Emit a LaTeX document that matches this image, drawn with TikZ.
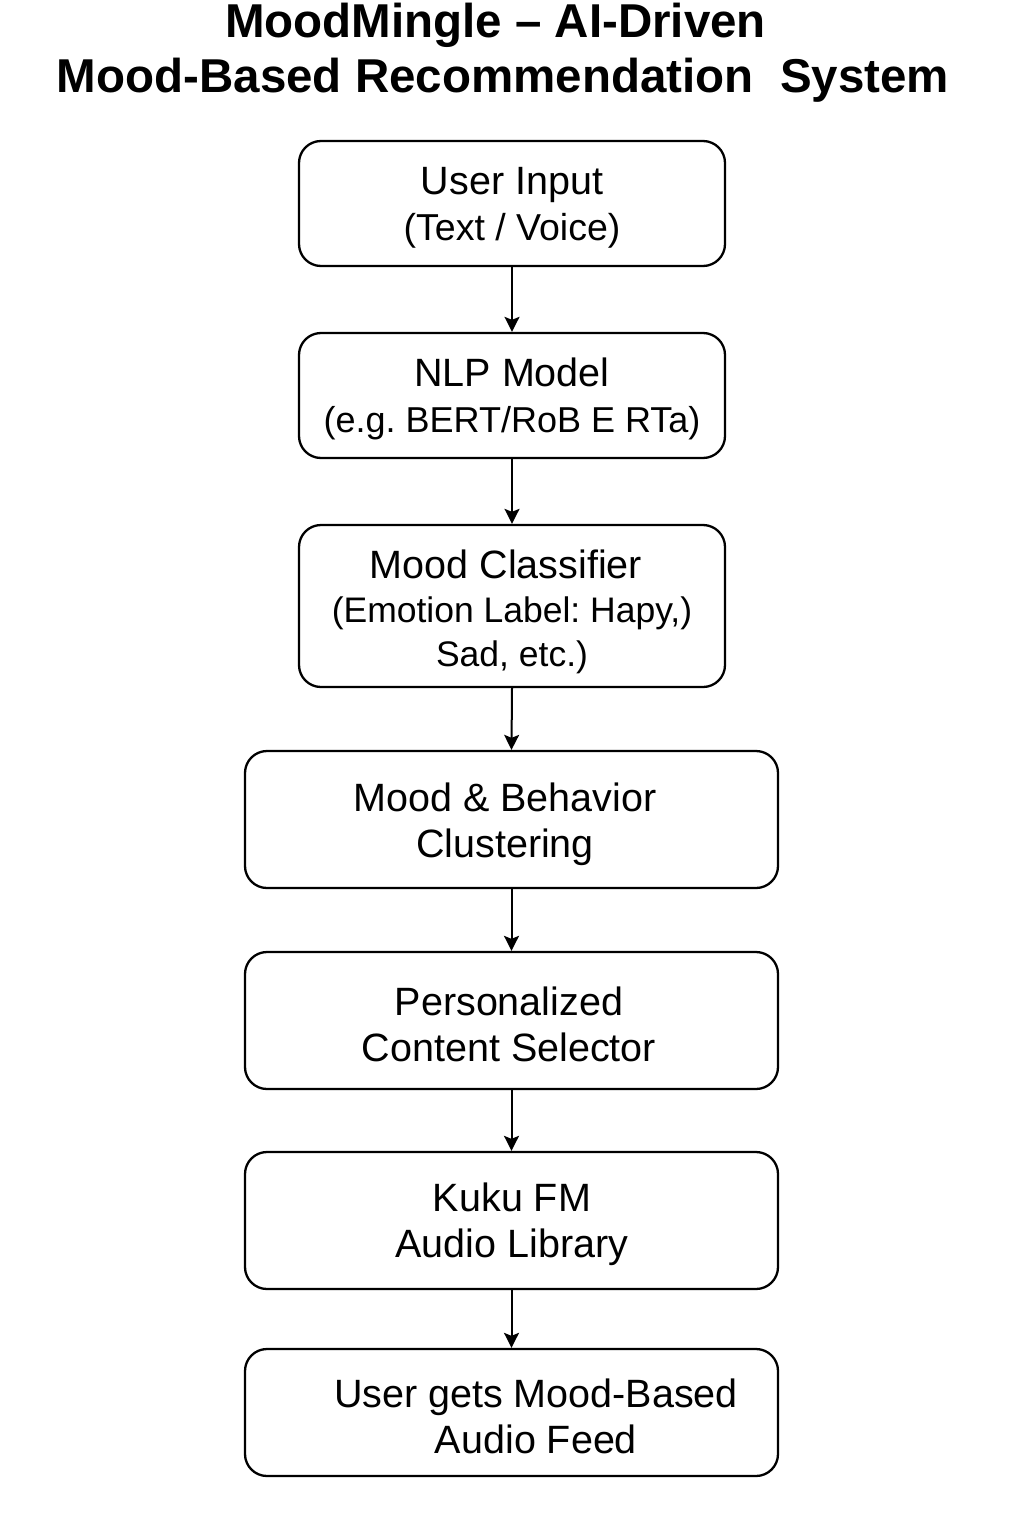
\documentclass[tikz,border=0pt]{standalone}
\usepackage{fontspec}
\setmainfont{Liberation Sans}
\usetikzlibrary{arrows.meta}
\frenchspacing
\tikzset{
  box/.style={draw=black, line width=2.3pt, rounded corners=22pt, fill=white},
  body/.style={font=\fontsize{39.5}{46}\selectfont, align=center, inner sep=0pt},
  ttl/.style={font=\fontsize{47.5}{55}\selectfont\bfseries, inner sep=0pt, anchor=base},
  flow/.style={line width=2pt, -{Stealth[length=15pt,width=15pt,inset=3pt]}}
}
\begin{document}
\begin{tikzpicture}[x=1pt,y=-1pt]
\useasboundingbox (0,0) rectangle (1024,1536);
\node[ttl] (t1) at (495.5,38) {MoodMingle – AI-Driven};
\node[ttl] (t2) at (503,93) {Mood-Based Recommendation\ \ System};

\node[box, minimum width=426pt, minimum height=125pt] (b1) at (512,203.5) {};
\node[box, minimum width=426pt, minimum height=125pt] (b2) at (512,395.5) {};
\node[box, minimum width=426pt, minimum height=162pt] (b3) at (512,606) {};
\node[box, minimum width=533pt, minimum height=137pt] (b4) at (511.5,819.5) {};
\node[box, minimum width=533pt, minimum height=137pt] (b5) at (511.5,1020.5) {};
\node[box, minimum width=533pt, minimum height=137pt] (b6) at (511.5,1220.5) {};
\node[box, minimum width=533pt, minimum height=127pt] (b7) at (511.5,1412.5) {};

\node[body] (x1) at (512,208) {User Input\\{\fontsize{37.5}{46}\selectfont(Text / Voice)}};
\node[body] (x2) at (512,399) {NLP Model\\{\fontsize{36}{46}\selectfont(e.g. BERT/RoB E RTa)}};
\node[body, font=\fontsize{35.5}{44}\selectfont] (x3) at (512,612) {{\fontsize{39.5}{44}\selectfont Mood Classifier\hspace*{12pt}}\\(Emotion Label: Hapy,)\\Sad, etc.)};
\node[body] (x4) at (505,824) {Mood \& Behavior\\Clustering};
\node[body] (x5) at (509,1024) {Personalized\\Content Selector};
\node[body] (x6) at (512,1224) {Kuku FM\\Audio Library};
\node[body] (x7) at (536,1416) {User gets Mood-Based\\Audio Feed};

\draw[flow] (b1.south) -- (b2.north);
\draw[flow] (b2.south) -- (b3.north);
\draw[flow] (b3.south) -- (b4.north);
\draw[flow] (b4.south) -- (b5.north);
\draw[flow] (b5.south) -- (b6.north);
\draw[flow] (b6.south) -- (b7.north);
\end{tikzpicture}
\end{document}
